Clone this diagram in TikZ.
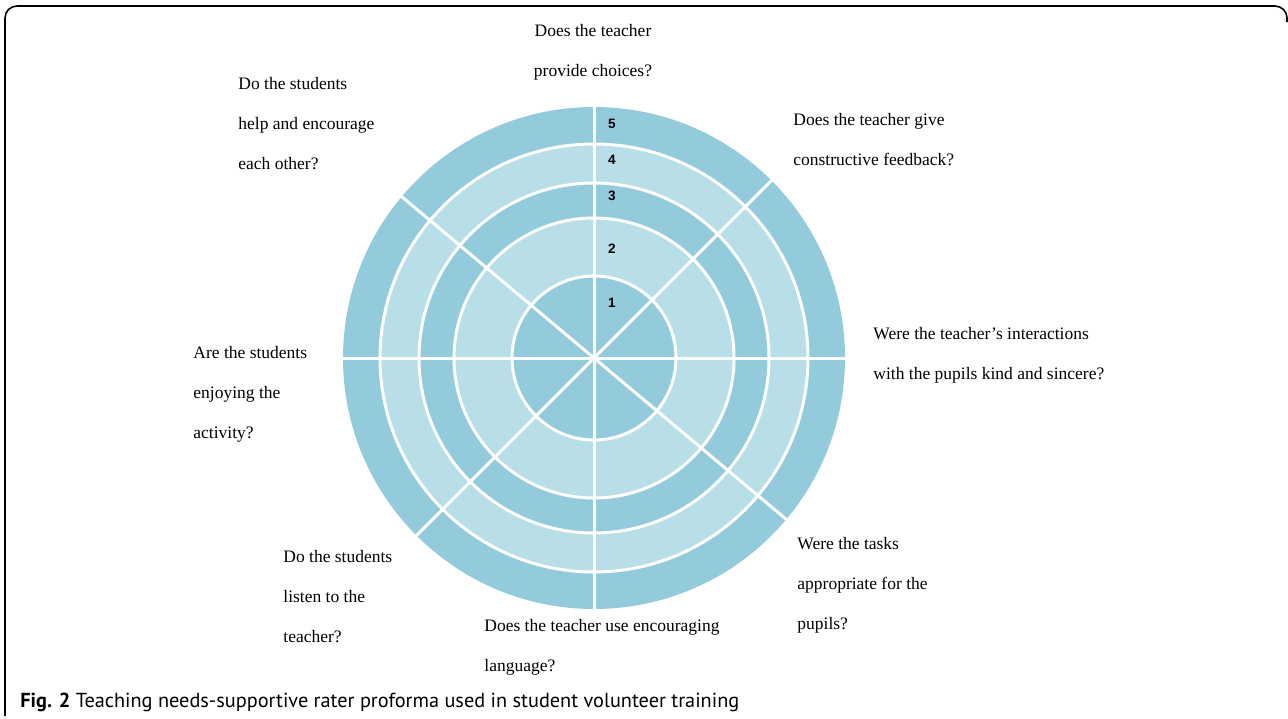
\documentclass[tikz,border=0pt]{standalone}
\usepackage{fontspec}
\setmainfont{Liberation Serif}
\setsansfont{Liberation Sans}
\newfontfamily\capfont{PT Sans}
\usetikzlibrary{positioning}

\definecolor{ringdark}{HTML}{94CBDC}
\definecolor{ringlight}{HTML}{B8DEE8}

\begin{document}
\begin{tikzpicture}[
        x=0.5pt, y=-0.5pt,
        question/.style={inner sep=0pt, align=left, anchor=north west, font=\fontsize{8.75}{20}\selectfont},
        score/.style={inner sep=0pt, font=\fontsize{6.8}{7}\selectfont\sffamily\bfseries},
        ringline/.style={draw=white, line width=1.5pt},
        divider/.style={white, line width=1.5pt},
        caption/.style={inner sep=0pt, anchor=base west, font=\capfont\fontsize{10.15}{12}\selectfont}
    ]
    \useasboundingbox (0,0) rectangle (1288,718);

    % frame
    \draw[line width=0.8pt, rounded corners=6pt] (5,716) -- (5,6) -- (1287,6) -- (1287,22);

    % rating wheel
    \coordinate (c) at (594,358);
    \fill[ringdark] (c) circle[radius=125.5pt];
    \filldraw[ringlight, ringline] (c) circle[radius=107pt];
    \filldraw[ringdark, ringline] (c) circle[radius=87.5pt];
    \filldraw[ringlight, ringline] (c) circle[radius=70pt];
    \filldraw[ringdark, ringline] (c) circle[radius=41pt];

    \draw[divider] ([shift={(0:125.5pt)}]c) -- ([shift={(180:125.5pt)}]c);
    \draw[divider] ([shift={(90:125.5pt)}]c) -- ([shift={(270:125.5pt)}]c);
    \draw[divider] ([shift={(45:125.5pt)}]c) -- ([shift={(225:125.5pt)}]c);
    \draw[divider] ([shift={(140:125.5pt)}]c) -- ([shift={(320:125.5pt)}]c);

    % scores
    \node[score] (s5) at (612,124) {5};
    \node[score] (s4) at (612,160) {4};
    \node[score] (s3) at (612,196) {3};
    \node[score] (s2) at (612,249) {2};
    \node[score] (s1) at (612,303) {1};

    % questions
    \node[question, anchor=north, align=center] (qchoice) at (593,24) {Does the teacher\\provide choices?};
    \node[question] (qhelp) at (238,77) {Do the students\\help and encourage\\each other?};
    \node[question] (qfeedback) at (793,113) {Does the teacher give\\constructive feedback?};
    \node[question] (qkind) at (873,327) {Were the teacher’s interactions\\with the pupils kind and sincere?};
    \node[question] (qenjoy) at (193,346) {Are the students\\enjoying the\\activity?};
    \node[question] (qlisten) at (283,550) {Do the students\\listen to the\\teacher?};
    \node[question] (qlanguage) at (484,619) {Does the teacher use encouraging\\language?};
    \node[question] (qtasks) at (797,537) {Were the tasks\\appropriate for the\\pupils?};

    \node[caption] (cap) at (20,707) {\textbf{Fig. 2} Teaching needs-supportive rater proforma used in student volunteer training};
\end{tikzpicture}
\end{document}
